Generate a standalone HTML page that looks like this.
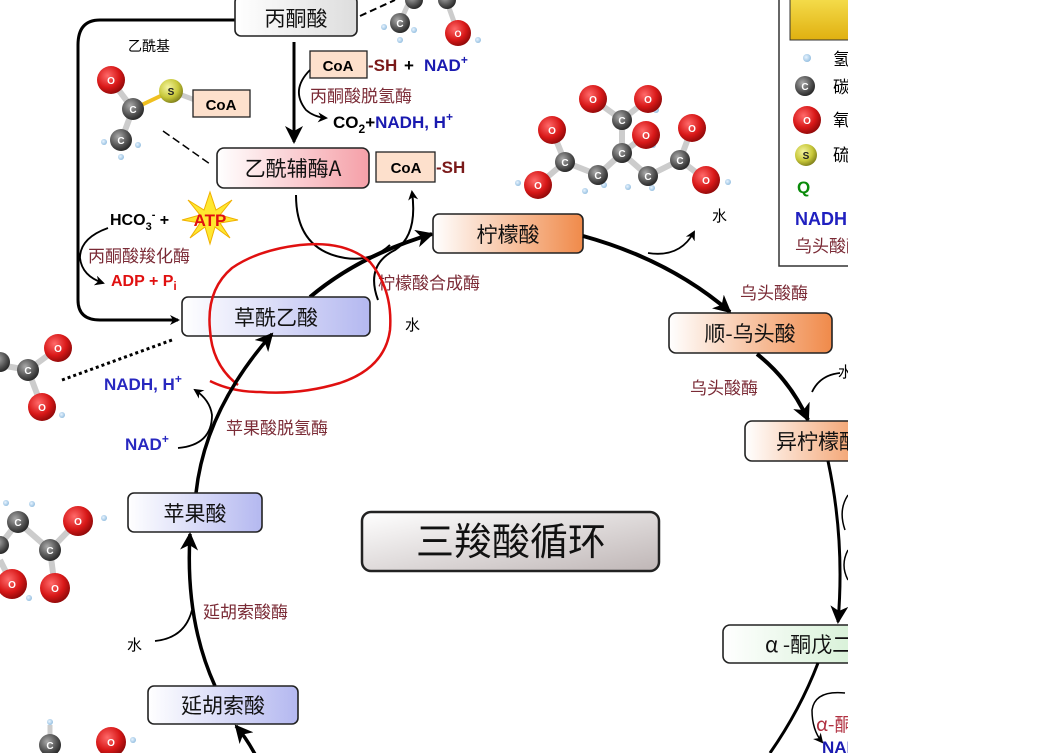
<!DOCTYPE html>
<html><head><meta charset="utf-8">
<style>
html,body{margin:0;padding:0;background:#fff;}
svg{display:block;font-family:"Liberation Sans","Noto Sans CJK SC",sans-serif;}
.cn{font-family:"Noto Sans CJK SC","WenQuanYi Zen Hei",sans-serif;}
.enz{fill:#7a2a35;font-size:17px;}
.box{stroke:#222;stroke-width:1.6;}
.blk{font-size:21px;fill:#111;}
</style></head><body>
<svg width="1053" height="753" viewBox="0 0 1053 753" xmlns="http://www.w3.org/2000/svg">
<defs>
<radialGradient id="gO" cx="0.38" cy="0.35" r="0.7"><stop offset="0" stop-color="#ff6a6a"/><stop offset="0.6" stop-color="#d81818"/><stop offset="1" stop-color="#8a0808"/></radialGradient>
<radialGradient id="gC" cx="0.38" cy="0.35" r="0.7"><stop offset="0" stop-color="#aaa"/><stop offset="0.6" stop-color="#555"/><stop offset="1" stop-color="#222"/></radialGradient>
<radialGradient id="gS" cx="0.38" cy="0.35" r="0.7"><stop offset="0" stop-color="#f4f4a0"/><stop offset="0.6" stop-color="#c8c83a"/><stop offset="1" stop-color="#7a7a18"/></radialGradient>
<radialGradient id="gH" cx="0.4" cy="0.4" r="0.7"><stop offset="0" stop-color="#e8f4ff"/><stop offset="1" stop-color="#8ab8dc"/></radialGradient>
<linearGradient id="gGray" x1="0" x2="1"><stop offset="0" stop-color="#fff"/><stop offset="1" stop-color="#ddd"/></linearGradient>
<linearGradient id="gGray2" x1="0" y1="0" x2="1" y2="1"><stop offset="0" stop-color="#fff"/><stop offset="1" stop-color="#bfb6b6"/></linearGradient>
<linearGradient id="gPink" x1="0" x2="1"><stop offset="0" stop-color="#fff"/><stop offset="1" stop-color="#f5a0a8"/></linearGradient>
<linearGradient id="gOr" x1="0" x2="1"><stop offset="0" stop-color="#fff"/><stop offset="1" stop-color="#f08a4a"/></linearGradient>
<linearGradient id="gBl" x1="0" x2="1"><stop offset="0" stop-color="#fff"/><stop offset="1" stop-color="#b4b8f0"/></linearGradient>
<linearGradient id="gGr" x1="0" x2="1"><stop offset="0" stop-color="#fff"/><stop offset="1" stop-color="#cfeecf"/></linearGradient>
<linearGradient id="gY" x1="0" y1="0" x2="0" y2="1"><stop offset="0" stop-color="#f6e050"/><stop offset="1" stop-color="#e0b010"/></linearGradient>
<marker id="ah" markerWidth="10" markerHeight="10" refX="8" refY="5" orient="auto" markerUnits="userSpaceOnUse"><path d="M0,0 L10,5 L0,10 L3,5 Z" fill="#000"/></marker>
<marker id="AH" markerWidth="20" markerHeight="18" refX="16" refY="9" orient="auto" markerUnits="userSpaceOnUse"><path d="M0,0 L18,9 L0,18 L5,9 Z" fill="#000"/></marker>
<clipPath id="cl"><rect x="0" y="0" width="848" height="753"/></clipPath>
</defs>
<g clip-path="url(#cl)">
<!-- legend -->
<rect x="779" y="-5" width="100" height="271" fill="#fff" stroke="#333" stroke-width="1.5"/>
<rect x="790" y="-5" width="80" height="45" fill="url(#gY)" stroke="#333"/>
<circle cx="807" cy="58" r="4" fill="url(#gH)"/><text x="833" y="65" class="cn" font-size="17">氢</text>
<circle cx="805" cy="86" r="10" fill="url(#gC)"/><text x="805" y="90" font-size="10" fill="#fff" text-anchor="middle" font-weight="bold">C</text><text x="833" y="93" class="cn" font-size="17">碳</text>
<circle cx="807" cy="120" r="14" fill="url(#gO)"/><text x="807" y="124" font-size="10" fill="#fff" text-anchor="middle" font-weight="bold">O</text><text x="833" y="126" class="cn" font-size="17">氧</text>
<circle cx="806" cy="155" r="11" fill="url(#gS)"/><text x="806" y="159" font-size="10" fill="#222" text-anchor="middle" font-weight="bold">S</text><text x="833" y="161" class="cn" font-size="17">硫</text>
<text x="797" y="193" font-size="17" font-weight="bold" fill="#0a8a0a">Q</text>
<text x="795" y="225" font-size="18" font-weight="bold" fill="#2020c0">NADH</text>
<text x="795" y="252" class="cn enz">乌头酸酶</text>

<!-- pyruvate molecule (top) -->
<line x1="400" y1="22" x2="410" y2="0" stroke="#ccc" stroke-width="5"/>
<line x1="448" y1="5" x2="458" y2="33" stroke="#ccc" stroke-width="5"/>
<circle cx="384" cy="27" r="3" fill="url(#gH)"/><circle cx="400" cy="40" r="3" fill="url(#gH)"/><circle cx="414" cy="30" r="3" fill="url(#gH)"/><circle cx="478" cy="40" r="3" fill="url(#gH)"/>
<circle cx="400" cy="23" r="10" fill="url(#gC)"/><text x="400" y="27" font-size="10" fill="#fff" text-anchor="middle" font-weight="bold">C</text>
<circle cx="414" cy="0" r="9" fill="url(#gC)"/><circle cx="447" cy="0" r="9" fill="url(#gC)"/>
<circle cx="458" cy="33" r="13" fill="url(#gO)"/><text x="458" y="37" font-size="9" fill="#fff" text-anchor="middle" font-weight="bold">O</text>
<line x1="360" y1="16" x2="395" y2="0" stroke="#000" stroke-width="2" stroke-dasharray="7,4"/>

<!-- left loop -->
<path d="M236,20 H100 Q78,20 78,45 V300 Q78,320 100,320 H178" fill="none" stroke="#000" stroke-width="3" marker-end="url(#ah)"/>
<rect x="235" y="-4" width="122" height="40" rx="6" fill="url(#gGray)" class="box"/>
<text x="296" y="26" class="cn blk" text-anchor="middle">丙酮酸</text>
<text x="128" y="51" class="cn" font-size="14">乙酰基</text>

<!-- acetyl molecule -->
<line x1="111" y1="80" x2="133" y2="109" stroke="#ccc" stroke-width="6"/>
<line x1="133" y1="109" x2="171" y2="91" stroke="#f0c020" stroke-width="4"/>
<line x1="171" y1="91" x2="195" y2="100" stroke="#ccc" stroke-width="5"/>
<line x1="133" y1="109" x2="121" y2="141" stroke="#ccc" stroke-width="6"/>
<circle cx="104" cy="142" r="3" fill="url(#gH)"/><circle cx="138" cy="145" r="3" fill="url(#gH)"/><circle cx="121" cy="157" r="3" fill="url(#gH)"/>
<circle cx="111" cy="80" r="14" fill="url(#gO)"/><text x="111" y="84" font-size="10" fill="#fff" text-anchor="middle" font-weight="bold">O</text>
<circle cx="133" cy="109" r="11" fill="url(#gC)"/><text x="133" y="113" font-size="10" fill="#fff" text-anchor="middle" font-weight="bold">C</text>
<circle cx="121" cy="140" r="11" fill="url(#gC)"/><text x="121" y="144" font-size="10" fill="#fff" text-anchor="middle" font-weight="bold">C</text>
<circle cx="171" cy="91" r="12" fill="url(#gS)"/><text x="171" y="95" font-size="10" fill="#222" text-anchor="middle" font-weight="bold">S</text>
<rect x="193" y="90" width="57" height="27" fill="#fde0cc" stroke="#222" stroke-width="1.3"/>
<text x="221" y="110" font-size="15" font-weight="bold" text-anchor="middle">CoA</text>
<line x1="163" y1="131" x2="210" y2="164" stroke="#000" stroke-width="1.5" stroke-dasharray="8,4"/>

<!-- pyruvate dehydrogenase -->
<line x1="294" y1="42" x2="294" y2="142" stroke="#000" stroke-width="3" marker-end="url(#AH)"/>
<rect x="310" y="51" width="57" height="27" fill="#fde0cc" stroke="#222" stroke-width="1.3"/>
<text x="338" y="71" font-size="15" font-weight="bold" text-anchor="middle">CoA</text>
<text x="368" y="71" font-size="17" font-weight="bold" fill="#7a1a1a">-SH</text>
<text x="404" y="71" font-size="17" font-weight="bold">+</text>
<text x="424" y="71" font-size="17" font-weight="bold" fill="#1a1ab0">NAD<tspan dy="-7" font-size="12">+</tspan></text>
<path d="M310,70 Q290,90 306,110 Q314,117 326,118" fill="none" stroke="#000" stroke-width="1.8" marker-end="url(#ah)"/>
<text x="310" y="102" class="cn enz">丙酮酸脱氢酶</text>
<text x="333" y="128" font-size="17" font-weight="bold">CO<tspan dy="5" font-size="12">2</tspan><tspan dy="-5">+</tspan><tspan fill="#1a1ab0">NADH, H<tspan dy="-7" font-size="12">+</tspan></tspan></text>

<!-- acetyl-CoA -->
<rect x="217" y="148" width="152" height="40" rx="7" fill="url(#gPink)" class="box"/>
<text x="293" y="176" class="cn blk" text-anchor="middle" font-size="22">乙酰辅酶A</text>
<rect x="376" y="152" width="59" height="30" fill="#fde0cc" stroke="#222" stroke-width="1.3"/>
<text x="406" y="173" font-size="15" font-weight="bold" text-anchor="middle">CoA</text>
<text x="436" y="173" font-size="17" font-weight="bold" fill="#7a1a1a">-SH</text>
<path d="M296,195 Q296,250 345,258 Q372,262 390,245" fill="none" stroke="#000" stroke-width="2"/>
<path d="M378,300 Q365,265 395,250 Q418,235 412,192" fill="none" stroke="#000" stroke-width="2" marker-end="url(#ah)"/>

<!-- citrate -->
<path d="M310,297 Q360,255 432,234" fill="none" stroke="#000" stroke-width="4" marker-end="url(#AH)"/>
<rect x="433" y="214" width="150" height="39" rx="6" fill="url(#gOr)" class="box"/>
<text x="508" y="242" class="cn blk" text-anchor="middle">柠檬酸</text>
<text x="378" y="289" class="cn enz">柠檬酸合成酶</text>
<text x="405" y="330" class="cn" font-size="15">水</text>

<!-- citrate molecule -->
<g stroke="#ccc" stroke-width="6">
<line x1="552" y1="130" x2="565" y2="162"/><line x1="565" y1="162" x2="538" y2="185"/><line x1="565" y1="162" x2="598" y2="175"/>
<line x1="598" y1="175" x2="622" y2="153"/><line x1="622" y1="153" x2="622" y2="120"/><line x1="622" y1="120" x2="593" y2="99"/><line x1="622" y1="120" x2="648" y2="99"/>
<line x1="622" y1="153" x2="646" y2="135"/><line x1="622" y1="153" x2="648" y2="176"/><line x1="648" y1="176" x2="680" y2="160"/><line x1="680" y1="160" x2="692" y2="128"/><line x1="680" y1="160" x2="706" y2="180"/>
</g>
<g fill="url(#gH)">
<circle cx="518" cy="183" r="3"/><circle cx="585" cy="191" r="3"/><circle cx="604" cy="185" r="3"/><circle cx="628" cy="187" r="3"/><circle cx="652" cy="188" r="3"/><circle cx="656" cy="110" r="3"/><circle cx="653" cy="145" r="3"/><circle cx="728" cy="182" r="3"/>
</g>
<g font-size="10" fill="#fff" text-anchor="middle" font-weight="bold">
<circle cx="593" cy="99" r="14" fill="url(#gO)"/><text x="593" y="103">O</text>
<circle cx="648" cy="99" r="14" fill="url(#gO)"/><text x="648" y="103">O</text>
<circle cx="552" cy="130" r="14" fill="url(#gO)"/><text x="552" y="134">O</text>
<circle cx="692" cy="128" r="14" fill="url(#gO)"/><text x="692" y="132">O</text>
<circle cx="538" cy="185" r="14" fill="url(#gO)"/><text x="538" y="189">O</text>
<circle cx="706" cy="180" r="14" fill="url(#gO)"/><text x="706" y="184">O</text>
<circle cx="622" cy="120" r="10" fill="url(#gC)"/><text x="622" y="124">C</text>
<circle cx="646" cy="135" r="14" fill="url(#gO)"/><text x="646" y="139">O</text>
<circle cx="565" cy="162" r="10" fill="url(#gC)"/><text x="565" y="166">C</text>
<circle cx="622" cy="153" r="10" fill="url(#gC)"/><text x="622" y="157">C</text>
<circle cx="598" cy="175" r="10" fill="url(#gC)"/><text x="598" y="179">C</text>
<circle cx="648" cy="176" r="10" fill="url(#gC)"/><text x="648" y="180">C</text>
<circle cx="680" cy="160" r="10" fill="url(#gC)"/><text x="680" y="164">C</text>
</g>
<text x="712" y="221" class="cn" font-size="15">水</text>
<path d="M648,253 Q680,258 694,232" fill="none" stroke="#000" stroke-width="1.8" marker-end="url(#ah)"/>

<!-- aconitate -->
<path d="M583,236 Q670,260 730,312" fill="none" stroke="#000" stroke-width="4" marker-end="url(#AH)"/>
<text x="740" y="299" class="cn enz">乌头酸酶</text>
<rect x="669" y="313" width="163" height="40" rx="7" fill="url(#gOr)" class="box"/>
<text x="750" y="341" class="cn blk" text-anchor="middle">顺-乌头酸</text>
<text x="690" y="394" class="cn enz">乌头酸酶</text>
<path d="M757,354 Q790,380 808,420" fill="none" stroke="#000" stroke-width="4" marker-end="url(#AH)"/>
<path d="M812,392 Q820,375 840,373" fill="none" stroke="#000" stroke-width="1.8"/>
<text x="838" y="377" class="cn" font-size="15">水</text>
<rect x="745" y="421" width="140" height="40" rx="7" fill="url(#gOr)" class="box"/>
<text x="776" y="449" class="cn blk">异柠檬酸</text>
<path d="M828,461 Q845,540 838,622" fill="none" stroke="#000" stroke-width="3" marker-end="url(#AH)"/>
<path d="M848,495 Q838,510 845,530" fill="none" stroke="#000" stroke-width="1.5"/>
<path d="M848,580 Q840,565 848,550" fill="none" stroke="#000" stroke-width="1.5"/>
<rect x="723" y="625" width="160" height="38" rx="7" fill="url(#gGr)" class="box"/>
<text x="765" y="652" class="cn blk">α -酮戊二酸</text>
<path d="M818,663 Q800,710 770,753" fill="none" stroke="#000" stroke-width="3"/>
<path d="M845,693 Q815,690 812,710 Q812,730 822,742" fill="none" stroke="#000" stroke-width="1.5" marker-end="url(#ah)"/>
<text x="816" y="731" font-size="19" fill="#b03040" class="cn">α-酮</text>
<text x="822" y="753" font-size="17" font-weight="bold" fill="#1a1ab0">NADH</text>

<!-- pyruvate carboxylase -->
<text x="110" y="225" font-size="16" font-weight="bold">HCO<tspan dy="5" font-size="11">3</tspan><tspan dy="-12" font-size="11">-</tspan><tspan dy="7"> +</tspan></text>
<g transform="translate(210,218)" fill="#ffe830" stroke="#f0b000" stroke-width="1">
<path d="M0,-26 L6,-8 L22,-18 L10,-3 L28,2 L10,5 L20,20 L5,9 L0,26 L-5,9 L-20,20 L-10,5 L-28,2 L-10,-3 L-22,-18 L-6,-8 Z"/>
</g>
<text x="210" y="226" font-size="17" font-weight="bold" fill="#e01010" text-anchor="middle">ATP</text>
<text x="88" y="262" class="cn enz">丙酮酸羧化酶</text>
<path d="M108,228 Q80,238 80,258 Q82,276 103,283" fill="none" stroke="#000" stroke-width="1.8" marker-end="url(#ah)"/>
<text x="111" y="286" font-size="16" font-weight="bold" fill="#e01010">ADP + P<tspan dy="4" font-size="12">i</tspan></text>

<!-- oxaloacetate -->
<rect x="182" y="297" width="188" height="39" rx="6" fill="url(#gBl)" class="box"/>
<text x="276" y="325" class="cn blk" text-anchor="middle">草酰乙酸</text>
<path d="M210,381 Q232,392 260,392 Q300,395 340,383 Q385,368 390,330 Q393,290 370,262 Q345,240 300,245 Q258,250 232,268 Q206,290 210,330 Q212,365 238,385" fill="none" stroke="#e01010" stroke-width="2.5"/>

<!-- malate molecule -->
<g stroke="#ccc" stroke-width="6"><line x1="0" y1="365" x2="28" y2="370"/><line x1="28" y1="370" x2="58" y2="348"/><line x1="28" y1="370" x2="42" y2="407"/></g>
<circle cx="62" cy="415" r="3" fill="url(#gH)"/>
<g font-size="10" fill="#fff" text-anchor="middle" font-weight="bold">
<circle cx="58" cy="348" r="14" fill="url(#gO)"/><text x="58" y="352">O</text>
<circle cx="28" cy="370" r="11" fill="url(#gC)"/><text x="28" y="374">C</text>
<circle cx="42" cy="407" r="14" fill="url(#gO)"/><text x="42" y="411">O</text>
<circle cx="0" cy="362" r="10" fill="url(#gC)"/>
</g>
<line x1="62" y1="380" x2="172" y2="340" stroke="#000" stroke-width="3" stroke-dasharray="3,3"/>
<text x="104" y="390" font-size="17" font-weight="bold" fill="#2828c0">NADH, H<tspan dy="-7" font-size="12">+</tspan></text>
<text x="125" y="450" font-size="17" font-weight="bold" fill="#2828c0">NAD<tspan dy="-7" font-size="12">+</tspan></text>
<path d="M178,448 Q212,445 212,415 Q210,400 195,390" fill="none" stroke="#000" stroke-width="1.8" marker-end="url(#ah)"/>
<text x="226" y="434" class="cn enz">苹果酸脱氢酶</text>
<path d="M196,493 Q205,410 272,334" fill="none" stroke="#000" stroke-width="3.5" marker-end="url(#AH)"/>

<rect x="128" y="493" width="134" height="39" rx="6" fill="url(#gBl)" class="box"/>
<text x="195" y="521" class="cn blk" text-anchor="middle">苹果酸</text>

<rect x="362" y="512" width="297" height="59" rx="9" fill="url(#gGray2)" stroke="#222" stroke-width="2.5"/>
<text x="511" y="555" class="cn" font-size="38" text-anchor="middle" fill="#111">三羧酸循环</text>

<!-- fumarate -->
<path d="M215,686 Q185,620 190,534" fill="none" stroke="#000" stroke-width="3.5" marker-end="url(#AH)"/>
<text x="203" y="618" class="cn enz">延胡索酸酶</text>
<text x="127" y="650" class="cn" font-size="15">水</text>
<path d="M155,641 Q185,638 192,610" fill="none" stroke="#000" stroke-width="1.8"/>
<rect x="148" y="686" width="150" height="38" rx="6" fill="url(#gBl)" class="box"/>
<text x="223" y="713" class="cn blk" text-anchor="middle">延胡索酸</text>
<path d="M258,760 Q248,740 236,726" fill="none" stroke="#000" stroke-width="3.5" marker-end="url(#AH)"/>

<!-- succinate-like molecule left -->
<g stroke="#ccc" stroke-width="6"><line x1="18" y1="522" x2="50" y2="550"/><line x1="50" y1="550" x2="78" y2="521"/><line x1="50" y1="550" x2="55" y2="588"/><line x1="0" y1="545" x2="18" y2="522"/><line x1="0" y1="560" x2="12" y2="584"/></g>
<g fill="url(#gH)"><circle cx="6" cy="503" r="3"/><circle cx="32" cy="504" r="3"/><circle cx="104" cy="518" r="3"/><circle cx="29" cy="598" r="3"/></g>
<g font-size="10" fill="#fff" text-anchor="middle" font-weight="bold">
<circle cx="18" cy="522" r="11" fill="url(#gC)"/><text x="18" y="526">C</text>
<circle cx="78" cy="521" r="15" fill="url(#gO)"/><text x="78" y="525">O</text>
<circle cx="50" cy="550" r="11" fill="url(#gC)"/><text x="50" y="554">C</text>
<circle cx="12" cy="584" r="15" fill="url(#gO)"/><text x="12" y="588">O</text>
<circle cx="55" cy="588" r="15" fill="url(#gO)"/><text x="55" y="592">O</text>
<circle cx="0" cy="545" r="9" fill="url(#gC)"/>
</g>
<!-- bottom molecule -->
<line x1="50" y1="725" x2="50" y2="742" stroke="#ccc" stroke-width="5"/>
<circle cx="50" cy="722" r="3" fill="url(#gH)"/><circle cx="133" cy="740" r="3" fill="url(#gH)"/>
<circle cx="50" cy="745" r="11" fill="url(#gC)"/><text x="50" y="749" font-size="10" fill="#fff" text-anchor="middle" font-weight="bold">C</text>
<circle cx="111" cy="742" r="15" fill="url(#gO)"/><text x="111" y="746" font-size="10" fill="#fff" text-anchor="middle" font-weight="bold">O</text>
</g>
</svg>
</body></html>
